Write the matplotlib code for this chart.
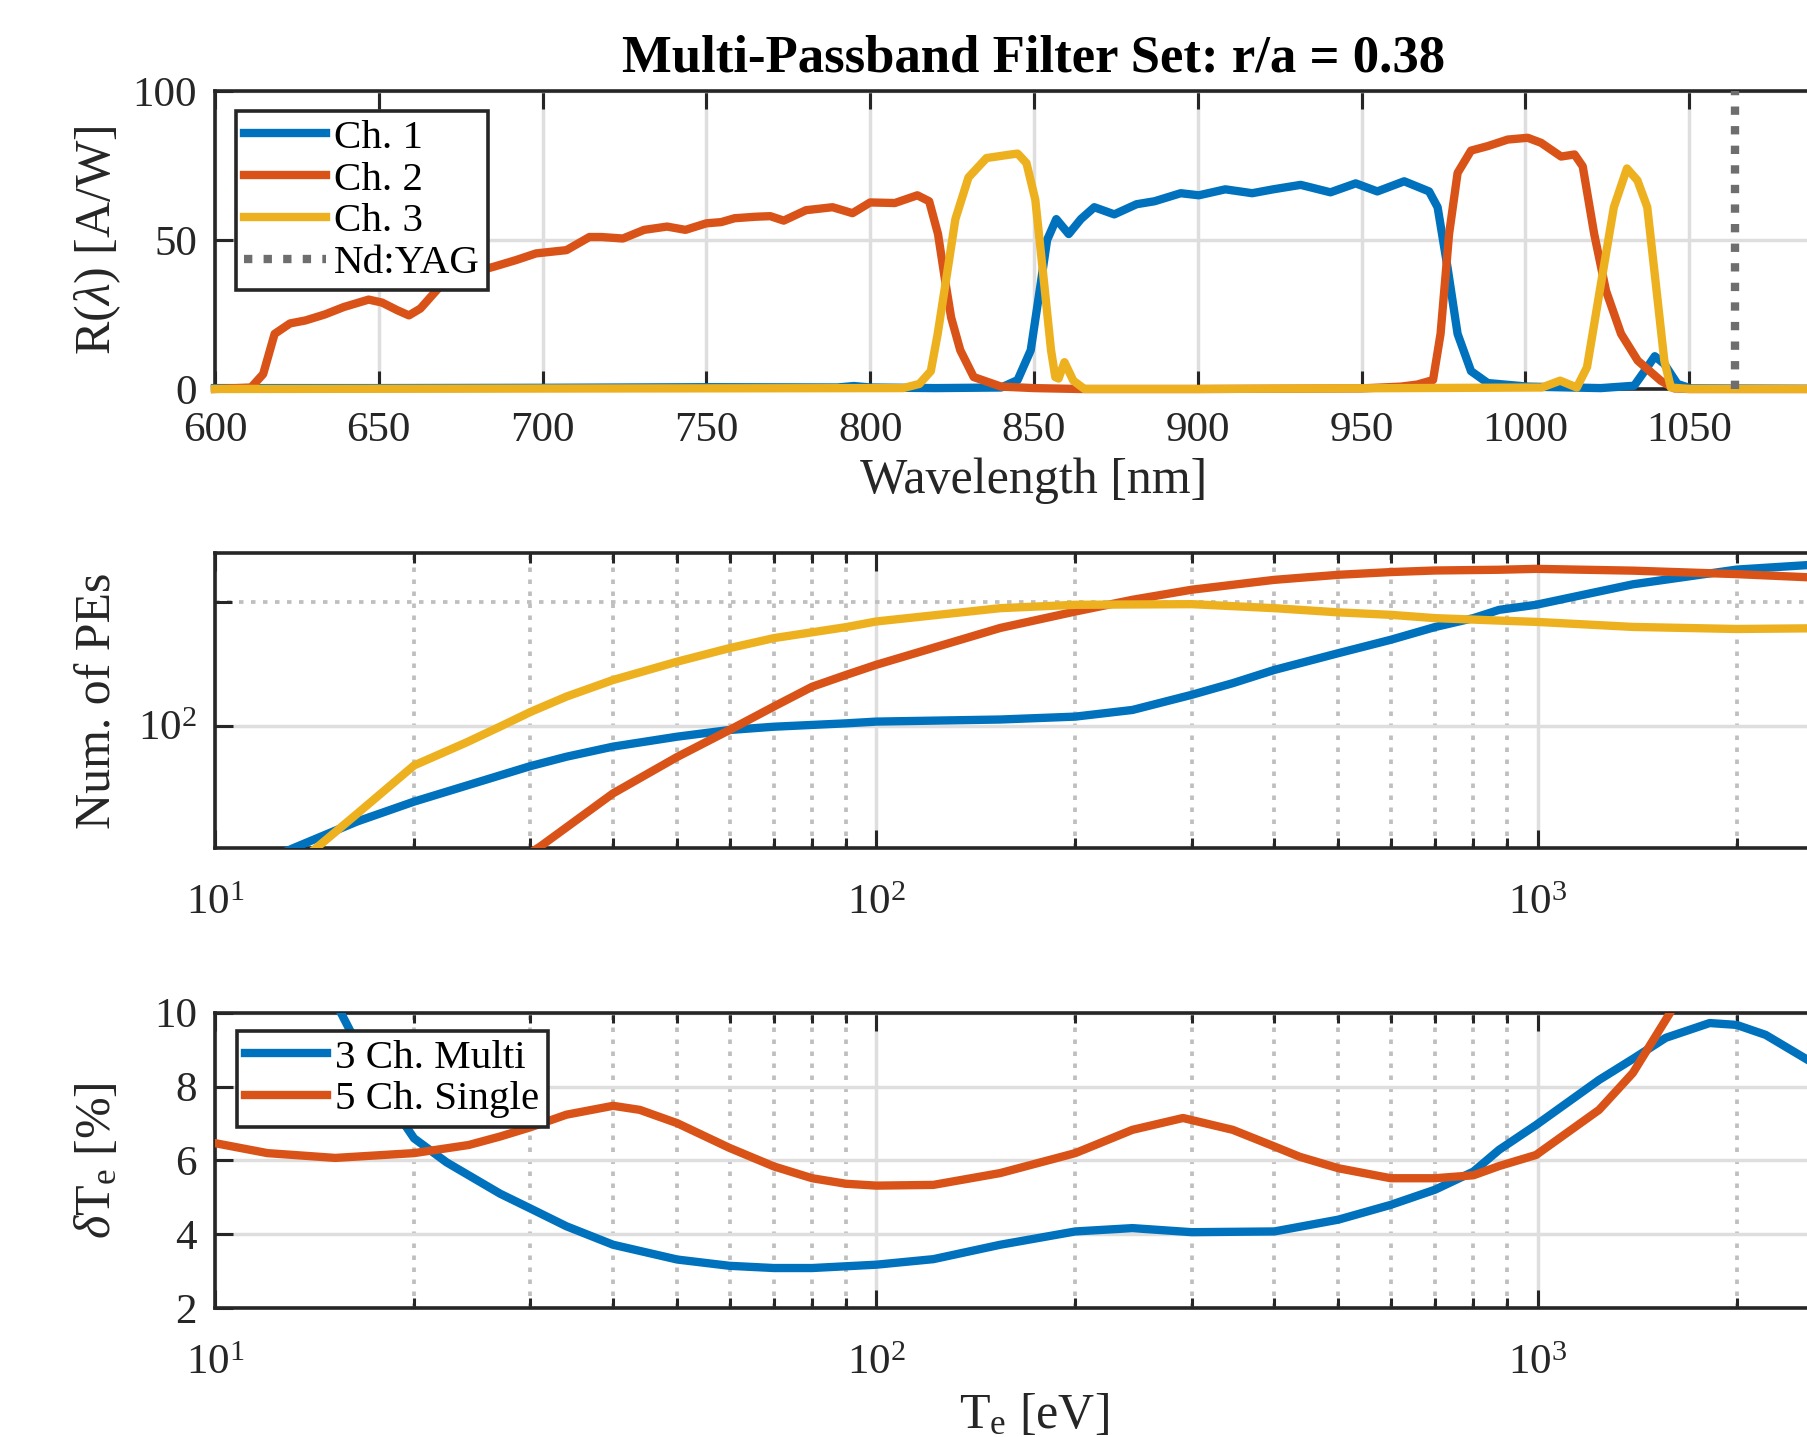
import numpy as np
import matplotlib
matplotlib.use('Agg')
import matplotlib.pyplot as plt
from matplotlib.ticker import FixedLocator, NullFormatter

plt.rcParams['font.family'] = ['Liberation Serif', 'DejaVu Serif']
plt.rcParams['mathtext.fontset'] = 'custom'
plt.rcParams['mathtext.rm'] = 'Liberation Serif'
plt.rcParams['mathtext.it'] = 'Liberation Serif:italic'
plt.rcParams['mathtext.bf'] = 'Liberation Serif:bold'

C1 = '#0072BD'
C2 = '#D95319'
C3 = '#EDB120'
INK = '#262626'

# ---- responsivity of the three filter channels [A/W] vs wavelength [nm]
wl_ch1 = [600, 650, 700, 750, 790, 795, 800, 820, 840, 845, 849, 852, 854, 856.8, 860.6, 864.3,
          868.4, 874.5, 881.3, 886.8, 894.8, 900.3, 908.4, 916.6, 923, 931.4, 940.5, 948.2, 954.8,
          963, 970.6, 973.2, 976.2, 979.3, 983.4, 988.5, 1000.7, 1023, 1033.2, 1037, 1039.5, 1042.4,
          1046.4, 1050.5, 1100]
r_ch1 = [0.3, 0.3, 0.4, 0.6, 0.5, 1.0, 0.5, 0.3, 0.5, 3, 13, 35, 50, 57, 52, 57,
         61, 58.6, 62, 63, 65.7, 65, 67, 65.7, 67, 68.5, 66, 69, 66.3,
         69.7, 66.3, 61, 41, 18.5, 6, 2, 0.8, 0.3, 1.1, 7, 11, 8.4,
         1.7, 0.2, 0]

wl_ch2 = [600, 611, 614.7, 618.2, 622.9, 627.6, 633.5, 639.3, 646.9, 651, 655.7, 659.2, 662.7,
          668.6, 675, 685, 692, 698, 707.3, 714.3, 718, 724.5, 731, 738, 743.6, 750, 754.5, 758.6,
          765, 769.5, 773.6, 780.4, 788.5, 794.6, 800, 807.5, 814.4, 818, 820.7, 822.7, 824.7,
          827.5, 831.6, 840, 850, 864, 900, 950, 962, 967, 971.8, 974.1, 976.7, 979.3, 983.4,
          988.5, 994.6, 1000.7, 1004.8, 1010.9, 1015, 1017.5, 1021, 1024.6, 1029.2, 1034.3,
          1041.3, 1045.4, 1050, 1100]
r_ch2 = [0, 0.5, 5, 18.5, 22, 23, 25, 27.5, 30, 29, 26.4, 24.7, 27,
         34.3, 38, 41, 43.3, 45.5, 46.6, 51, 51, 50.5, 53.4, 54.5, 53.4, 55.6, 56, 57.3,
         57.8, 58, 56.5, 60, 61, 59, 62.6, 62.4, 65, 63, 52, 37.6, 24,
         13, 4, 0.8, 0.3, 0, 0, 0.2, 0.8, 1.5, 3, 18.5, 52, 72.5, 80,
         81.5, 83.7, 84.3, 82.6, 78, 78.7, 74.7, 52, 33, 18.5, 9.5,
         2.8, 0.2, 0, 0]

wl_ch3 = [600, 810, 815, 818.5, 820.6, 823.3, 826, 830, 835.5, 842.3, 845, 847.7, 850.4, 853.1,
          855.2, 856.5, 857.5, 859.3, 862, 865.4, 900, 1005, 1010.6, 1015.7, 1018.8, 1022.9,
          1027, 1031, 1034.2, 1037.2, 1039.8, 1042.4, 1044.4, 1050, 1100]
r_ch3 = [0, 0.3, 1.7, 6, 18.5, 37.6, 57, 71, 77.5, 78.6, 79, 75.8, 63.5, 35.4,
         13, 4, 3.5, 9, 2.8, 0, 0, 0.5, 2.8, 0.5, 7.3, 34.3,
         61, 74, 70, 61, 35.4, 9.5, 0.5, 0, 0]

nd_yag = 1064
wl_ticks = [600, 650, 700, 750, 800, 850, 900, 950, 1000, 1050, 1100]

# ---- number of photoelectrons vs Te [eV]
te_pe1 = [12.5, 13.1, 16.4, 20, 30, 34, 40, 50, 60, 70, 90, 100, 154, 200, 244, 300, 346, 400,
          500, 600, 700, 800, 875, 995, 1394, 2000, 2547, 3000]
pe1 = [48.5, 50.2, 58.4, 65.3, 79.7, 84, 88.9, 94, 97.6, 99.4, 101.3, 102.3, 103.5, 105.2, 109.2,
       118.9, 126.9, 136.7, 150.2, 161.9, 173.9, 182.8, 191.5, 197, 221, 240, 246, 249]

te_pe2 = [30, 31, 40, 50, 60, 70, 80, 90, 100, 154, 200, 244, 300, 400, 500, 600, 700, 875, 995,
          1394, 2000, 2547, 3000]
pe2 = [49, 50.7, 68.4, 83.9, 97.6, 111.3, 124.4, 132.9, 140.7, 173, 189.7, 202.6, 214.4, 226.6,
       233.1, 236.7, 238.8, 239.8, 241, 238.6, 234, 230, 228]

te_pe3 = [13.8, 14.2, 16.4, 20, 24, 27, 30, 34, 40, 50, 60, 70, 90, 100, 154, 200, 300, 400, 500,
          600, 700, 875, 995, 1394, 2000, 2547, 3000]
pe3 = [48.5, 50.2, 61, 80, 91, 99.5, 108, 117.7, 129.2, 143.2, 154.5, 163.4, 173.8, 179.4, 193.3,
       197, 197.7, 193.3, 188.8, 186.2, 182.8, 180.3, 179, 174, 172, 172.6, 173]

# ---- relative Te uncertainty [%]
te_multi = [14.8, 15.5, 17.7, 20, 22.4, 25, 27, 30, 34, 40, 50, 60, 70, 80, 100, 122, 154, 200,
            244, 300, 400, 500, 600, 700, 800, 875, 995, 1239, 1394, 1563, 1821, 2000, 2213, 2547,
            3000]
dte_multi = [10.6, 10.0, 8.0, 6.6, 5.95, 5.45, 5.1, 4.7, 4.22, 3.72, 3.32, 3.15, 3.09, 3.09,
             3.18, 3.33, 3.72, 4.08, 4.17, 4.06, 4.08, 4.4, 4.8, 5.21, 5.7, 6.29, 6.96, 8.18,
             8.75, 9.32, 9.72, 9.67, 9.4, 8.75, 8.0]

te_single = [10, 12, 15.2, 20, 24.2, 27, 30, 34, 40, 43.9, 50, 60, 70, 80, 90, 100, 122, 154, 200,
             244, 291, 346, 400, 437, 500, 600, 700, 800, 875, 995, 1239, 1394, 1587]
dte_single = [6.47, 6.2, 6.07, 6.2, 6.42, 6.65, 6.9, 7.24, 7.48, 7.37, 7.01, 6.34, 5.84, 5.52,
              5.37, 5.32, 5.34, 5.66, 6.2, 6.83, 7.15, 6.83, 6.38, 6.1, 5.79, 5.52, 5.52, 5.6,
              5.85, 6.15, 7.37, 8.37, 10.0]

LW = 6
FS_TICK = 31
FS_LABEL = 36
FS_LEG = 29.5
DOT = (0, (1.2, 2.0))

fig = plt.figure(figsize=(18.07, 14.37), dpi=100)
left, width = 0.11898, 0.90648
ax1 = fig.add_axes([left, 0.72930, width, 0.20738])
ax2 = fig.add_axes([left, 0.40954, width, 0.20543])
ax3 = fig.add_axes([left, 0.08956, width, 0.20571])


def style(ax):
    for sp in ax.spines.values():
        sp.set_linewidth(2.6)
        sp.set_color(INK)
    ax.tick_params(which='both', direction='in', top=True, right=True, width=2.2,
                   color=INK, labelsize=FS_TICK, labelcolor=INK)
    ax.tick_params(which='major', length=13)
    ax.tick_params(which='minor', length=7)
    ax.set_axisbelow(True)


def legend(ax, anchor):
    leg = ax.legend(loc='upper left', bbox_to_anchor=anchor, borderaxespad=0,
                    fontsize=FS_LEG, handlelength=2.0, handletextpad=0.2,
                    labelspacing=0.1, borderpad=0.2, fancybox=False, framealpha=1)
    leg.get_frame().set_edgecolor(INK)
    leg.get_frame().set_linewidth(2.6)
    return leg


# top panel
style(ax1)
ax1.plot(wl_ch1, r_ch1, color=C1, lw=LW, label='Ch. 1', clip_on=False, zorder=3)
ax1.plot(wl_ch2, r_ch2, color=C2, lw=LW, label='Ch. 2', clip_on=False, zorder=3)
ax1.plot(wl_ch3, r_ch3, color=C3, lw=LW, label='Ch. 3', clip_on=False, zorder=3)
ax1.plot([nd_yag, nd_yag], [0, 100], color='#6e6e6e', lw=LW, ls=(0, (1.0, 1.35)),
         dash_capstyle='butt', label='Nd:YAG', zorder=3)
ax1.set_xlim(600, 1100)
ax1.set_ylim(0, 100)
ax1.set_xticks(wl_ticks)
# the 1100 label falls outside the cropped canvas, as in the original
ax1.set_xticklabels([str(t) if t < 1100 else '' for t in wl_ticks])
ax1.set_yticks([0, 50, 100])
ax1.grid(True, which='major', color='#dedede', lw=2.5, ls='-')
ax1.tick_params(axis='x', pad=16)
ax1.tick_params(axis='y', pad=13)
ax1.set_title('Multi-Passband Filter Set: r/a = 0.38', fontsize=38, fontweight='bold',
              pad=14, color='black')
ax1.set_xlabel('Wavelength [nm]', fontsize=FS_LABEL, color=INK)
ax1.xaxis.set_label_coords(0.5, -0.349)
ax1.xaxis.label.set_va('baseline')
ax1.set_ylabel(r'R($\lambda$) [A/W]', fontsize=FS_LABEL, color=INK)
legend(ax1, (0.0128, 0.933))

# middle panel
style(ax2)
ax2.set_xscale('log')
ax2.set_yscale('log')
ax2.plot(te_pe1, pe1, color=C1, lw=LW, zorder=3)
ax2.plot(te_pe2, pe2, color=C2, lw=LW, zorder=3)
ax2.plot(te_pe3, pe3, color=C3, lw=LW, zorder=3)
ax2.set_ylim(50.2, 263)
ax2.yaxis.set_major_locator(FixedLocator([100]))
ax2.yaxis.set_minor_locator(FixedLocator([200]))
ax2.yaxis.set_minor_formatter(NullFormatter())
ax2.tick_params(axis='y', which='minor', length=12)
ax2.set_ylabel('Num. of PEs', fontsize=FS_LABEL, color=INK)

# bottom panel
style(ax3)
ax3.set_xscale('log')
ax3.plot(te_multi, dte_multi, color=C1, lw=LW, label='3 Ch. Multi', zorder=3)
ax3.plot(te_single, dte_single, color=C2, lw=LW, label='5 Ch. Single', zorder=3)
ax3.set_ylim(2, 10)
ax3.set_yticks([2, 4, 6, 8, 10])
ax3.set_xlabel(r'T$_\mathrm{e}$ [eV]', fontsize=FS_LABEL, color=INK)
ax3.xaxis.set_label_coords(0.5, -0.405)
ax3.xaxis.label.set_va('baseline')
ax3.set_ylabel(r'$\delta\mathrm{T}_\mathrm{e}$ [%]', fontsize=FS_LABEL, color=INK)
legend(ax3, (0.0134, 0.939))

minor_x = [m * d for d in (10, 100, 1000) for m in range(2, 10) if m * d <= 3000]
for ax in (ax2, ax3):
    ax.set_xlim(10, 3000)
    ax.xaxis.set_major_locator(FixedLocator([10, 100, 1000]))
    ax.xaxis.set_minor_locator(FixedLocator(minor_x))
    ax.xaxis.set_minor_formatter(NullFormatter())
    ax.tick_params(axis='x', pad=26)
    ax.tick_params(axis='y', pad=13)
    ax.grid(True, which='major', color='#dedede', lw=2.5, ls='-')
    ax.grid(True, which='minor', axis='x', color='#bfbfbf', lw=2.7, ls=DOT)
ax2.grid(True, which='minor', axis='y', color='#bfbfbf', lw=2.7, ls=DOT)

for ax in (ax1, ax2, ax3):
    ax.yaxis.set_label_coords(-0.0714, 0.5)
    ax.yaxis.label.set_va('center')

fig.savefig('out.png', dpi=100)
